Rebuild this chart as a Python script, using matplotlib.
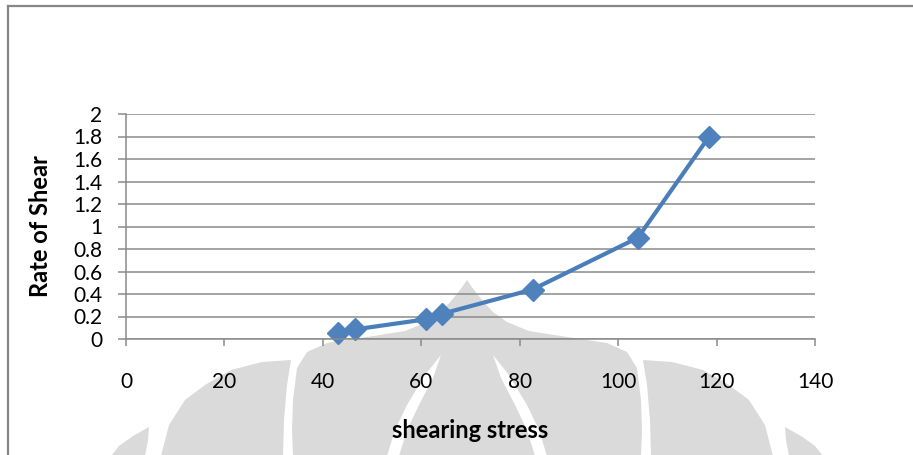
import numpy as np
import matplotlib.pyplot as plt
from matplotlib.patches import Polygon
from matplotlib.lines import Line2D

# viscometer readings
stress = [43.0, 46.5, 60.9, 64.3, 82.6, 104.0, 118.5]
rate = [0.05, 0.085, 0.175, 0.225, 0.44, 0.9, 1.8]

x_ticks = [0, 20, 40, 60, 80, 100, 120, 140]
y_ticks = [0, 0.2, 0.4, 0.6, 0.8, 1, 1.2, 1.4, 1.6, 1.8, 2]
y_labels = ["0", "0.2", "0.4", "0.6", "0.8", "1", "1.2", "1.4", "1.6", "1.8", "2"]

W, H = 913, 455
plt.rcParams['font.family'] = ['Lato', 'DejaVu Sans']

fig = plt.figure(figsize=(W / 100, H / 100), dpi=100)
fig.patch.set_facecolor('white')


def px(pts):
    # pixel coords (origin top-left) -> figure fraction
    pts = np.asarray(pts, dtype=float)
    return np.column_stack([pts[:, 0] / W, 1 - pts[:, 1] / H])


def mirror(half, cx):
    # half outline given as (dx, y) on the right side, closed by its mirror
    half = np.asarray(half, dtype=float)
    right = np.column_stack([cx + half[:, 0], half[:, 1]])
    left = np.column_stack([cx - half[::-1, 0], half[::-1, 1]])
    return np.vstack([right, left])


def add_shape(pts, color):
    fig.patches.append(Polygon(px(pts), closed=True, transform=fig.transFigure,
                               facecolor=color, edgecolor='none', zorder=-5))


# faint logo in the background
cx = 467
wm = '#dadada'
dome = [(0, 280), (7, 290), (15, 300), (26, 312), (40, 322), (62, 331),
        (100, 337), (140, 343), (160, 352), (170, 368), (174, 400),
        (175, 430), (174, 456)]
add_shape(mirror(dome, cx), wm)
for s in (1, -1):
    ring2 = [(176, 360), (205, 362), (236, 370), (262, 385), (282, 400),
             (298, 425), (306, 456), (184, 456), (183, 420), (180, 385)]
    add_shape([(cx + s * dx, y) for dx, y in ring2], wm)
    ring3 = [(318, 427), (334, 436), (348, 446), (356, 456), (322, 456), (319, 440)]
    add_shape([(cx + s * dx, y) for dx, y in ring3], wm)
    slit = [(26, 355), (42, 375), (60, 405), (72, 430), (80, 456), (68, 456),
            (60, 430), (48, 405), (34, 378)]
    add_shape([(cx + s * dx, y) for dx, y in slit], 'white')

# chart frame
fig.add_artist(Line2D([8 / W, 8 / W], [0, 1 - 6 / H], color='#878787', lw=1.6,
                      transform=fig.transFigure))
fig.add_artist(Line2D([8 / W, 1], [1 - 6 / H, 1 - 6 / H], color='#878787', lw=1.6,
                      transform=fig.transFigure))

ax = fig.add_axes([126 / W, (H - 339) / H, (815 - 126) / W, (339 - 114) / H])
ax.set_facecolor('none')

grid_c = '#8a8a8a'
ax.set_xlim(0, 140)
ax.set_ylim(0, 2)
ax.set_xticks(x_ticks)
ax.set_yticks(y_ticks)
ax.set_yticklabels(y_labels)
ax.grid(axis='y', color=grid_c, lw=1.1)
ax.set_axisbelow(True)
for side in ('top', 'right'):
    ax.spines[side].set_visible(False)
for side in ('left', 'bottom'):
    ax.spines[side].set_color(grid_c)
    ax.spines[side].set_linewidth(1.1)
ax.tick_params(axis='x', length=5, width=1.1, color=grid_c, pad=19,
               labelsize=15, labelcolor='black')
ax.tick_params(axis='y', length=6, width=1.1, color=grid_c, pad=11,
               labelsize=15, labelcolor='black')

ax.plot(stress, rate, color='#4a7ebb', lw=3.0, marker='D', markersize=11,
        markerfacecolor='#4f81bd', markeredgecolor='#4f81bd', clip_on=False)

ax.set_xlabel('shearing stress', fontsize=17, fontweight='bold', labelpad=19)
ax.set_ylabel('Rate of Shear', fontsize=17, fontweight='bold', labelpad=15)

fig.savefig('out.png', dpi=100)
